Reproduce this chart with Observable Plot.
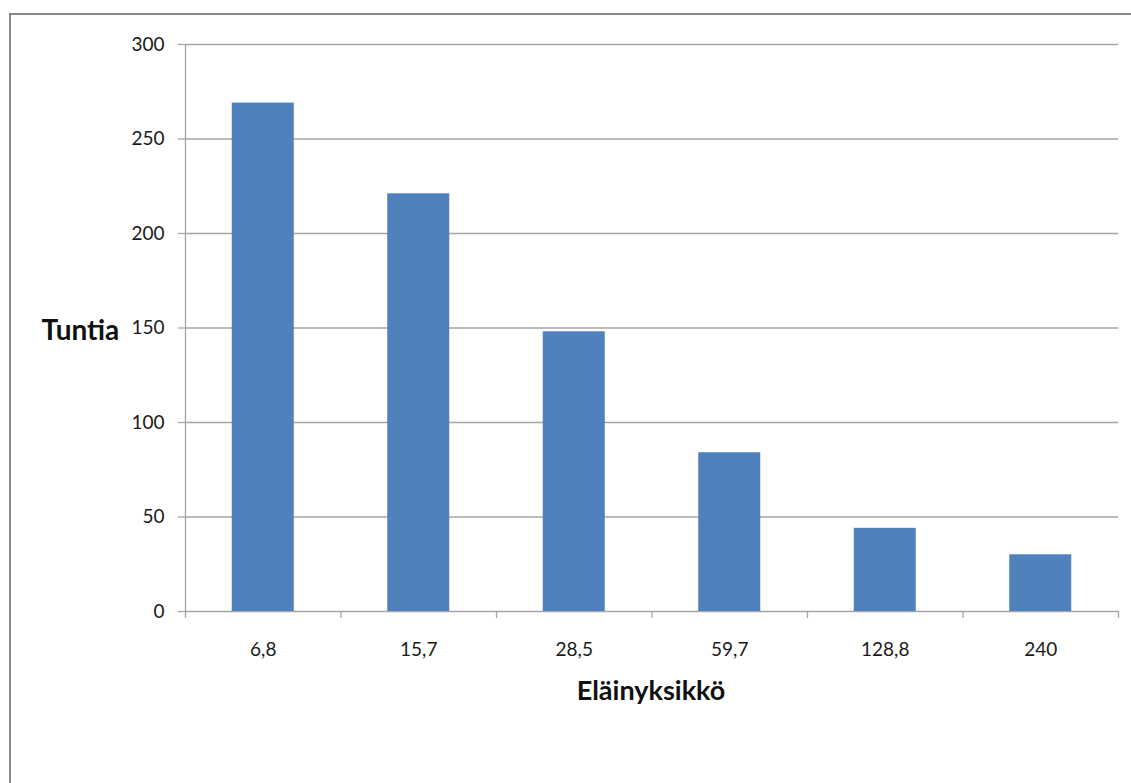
<!DOCTYPE html>
<html>
<head>
<meta charset="utf-8">
<script src="https://cdn.jsdelivr.net/npm/d3@7"></script>
<script src="https://cdn.jsdelivr.net/npm/@observablehq/plot@0.6"></script>
<style>
  html, body { margin: 0; padding: 0; background: #fff; overflow: hidden; }
  #wrap { position: relative; width: 1131px; height: 783px; }
  #border {
    position: absolute; left: 9px; top: 13px; width: 1200px; height: 900px;
    border-left: 2px solid #878787; border-top: 2px solid #878787;
    box-sizing: border-box; pointer-events: none;
  }
  #chart { position: absolute; left: 0; top: 0; }
</style>
</head>
<body>
<div id="wrap">
  <div id="border"></div>
  <div id="chart"></div>
</div>
<script>
// Eläinyksikkö categories and hours (tuntia)
const categories = ["6,8", "15,7", "28,5", "59,7", "128,8", "240"];
const hours = [269, 221, 148, 84, 44, 30];
const yTicks = [0, 50, 100, 150, 200, 250, 300];

const data = categories.map((c, i) => ({category: c, hours: hours[i]}));

const width = 1131, height = 783;
const marginLeft = 185, marginRight = 13, marginTop = 44, marginBottom = 172;
const step = (width - marginLeft - marginRight) / categories.length;
const barWidth = 62;
const inset = (step - barWidth) / 2;

const grid = "#a6a6a6";
const font = "Lato, 'Open Sans', sans-serif";

const chart = Plot.plot({
  width, height, marginLeft, marginRight, marginTop, marginBottom,
  style: {fontFamily: font, color: "#1a1a1a", background: "transparent"},
  x: {domain: categories, padding: 0, round: false, axis: null},
  y: {domain: [0, 300], axis: null},
  marks: [
    Plot.gridY(yTicks, {stroke: grid, strokeOpacity: 1, strokeWidth: 1.3}),
    Plot.axisY(yTicks, {
      tickSize: 7, tickPadding: 14, stroke: grid, strokeOpacity: 1, strokeWidth: 1.3,
      fontSize: 19, fill: "#1a1a1a", label: null
    }),
    // category boundary ticks below the baseline
    Plot.ruleX(categories, {x: d => d, dx: -step / 2, y1: 0, y2: 0, insetBottom: -7, stroke: grid, strokeWidth: 1.3}),
    Plot.ruleX([categories[categories.length - 1]], {x: d => d, dx: step / 2, y1: 0, y2: 0, insetBottom: -7, stroke: grid, strokeWidth: 1.3}),
    // vertical axis line
    Plot.ruleX([categories[0]], {x: d => d, dx: -step / 2, y1: 0, y2: 300, stroke: grid, strokeWidth: 1.3}),
    Plot.barY(data, {x: "category", y: "hours", fill: "#4f81bd", insetLeft: inset, insetRight: inset}),
    Plot.axisX(categories, {tickSize: 0, tickPadding: 31, fontSize: 19, fill: "#1a1a1a", label: null}),
    Plot.text(["Tuntia"], {
      frameAnchor: "left", dx: -144, dy: 3, textAnchor: "start",
      fontSize: 28, fontWeight: "bold", fill: "#111"
    }),
    Plot.text(["Eläinyksikkö"], {
      frameAnchor: "bottom", dy: 80, dx: -1, lineAnchor: "middle",
      fontSize: 27, fontWeight: "bold", fill: "#111"
    })
  ]
});

document.getElementById("chart").appendChild(chart);
</script>
</body>
</html>
